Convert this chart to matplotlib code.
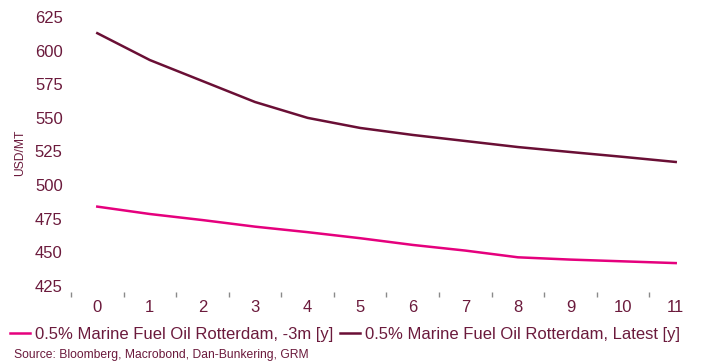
import numpy as np
import matplotlib.pyplot as plt
from matplotlib.ticker import FixedLocator

plt.rcParams['font.family'] = ['Liberation Sans', 'DejaVu Sans']

# data
years = list(range(12))
fuel_3m = [484, 478.5, 474, 469.1, 465, 460.5, 455.5, 451.3, 446.3, 444.6, 443.3, 442]
fuel_latest = [613, 593, 577.4, 561.8, 550, 542.5, 537.3, 532.8, 528.3, 524.6, 521, 517.2]
y_ticks = [425, 450, 475, 500, 525, 550, 575, 600, 625]

pink = '#e5007d'
maroon = '#6a0f35'
text_col = '#6b1a3c'

fig = plt.figure(figsize=(7.01, 3.63), dpi=100)
ax = fig.add_axes([71 / 701, 71 / 363, 631 / 701, (292 - 13) / 363])

ax.plot(years, fuel_3m, color=pink, lw=1.8, label='0.5% Marine Fuel Oil Rotterdam, -3m [y]')
ax.plot(years, fuel_latest, color=maroon, lw=1.8, label='0.5% Marine Fuel Oil Rotterdam, Latest [y]')

ax.set_xlim(-0.5, 11.5)
ax.set_ylim(420.5, 628)
ax.set_yticks(y_ticks)
ax.set_xticks(years)
ax.xaxis.set_minor_locator(FixedLocator(np.arange(-0.5, 11.0, 1)))
ax.tick_params(axis='x', which='major', length=0, pad=6, labelsize=12, labelcolor=text_col)
ax.tick_params(axis='x', which='minor', length=3.5, width=1, color='#8a8a8a')
ax.tick_params(axis='y', length=0, pad=6, labelsize=12, labelcolor=text_col)
for s in ax.spines.values():
    s.set_visible(False)

ax.set_ylabel('USD/MT', fontsize=8.7, color=text_col, labelpad=6)

fig.legend(loc='lower left', bbox_to_anchor=(0.005, 0.04), ncol=2, frameon=False,
           fontsize=12, labelcolor=text_col, handlelength=1.2, handletextpad=0.3,
           columnspacing=0.4, borderaxespad=0)
fig.text(14 / 701, 1 - 355 / 363, 'Source: Bloomberg, Macrobond, Dan-Bunkering, GRM',
         fontsize=8.7, color=text_col, va='center')

fig.savefig('out.png', dpi=100)
